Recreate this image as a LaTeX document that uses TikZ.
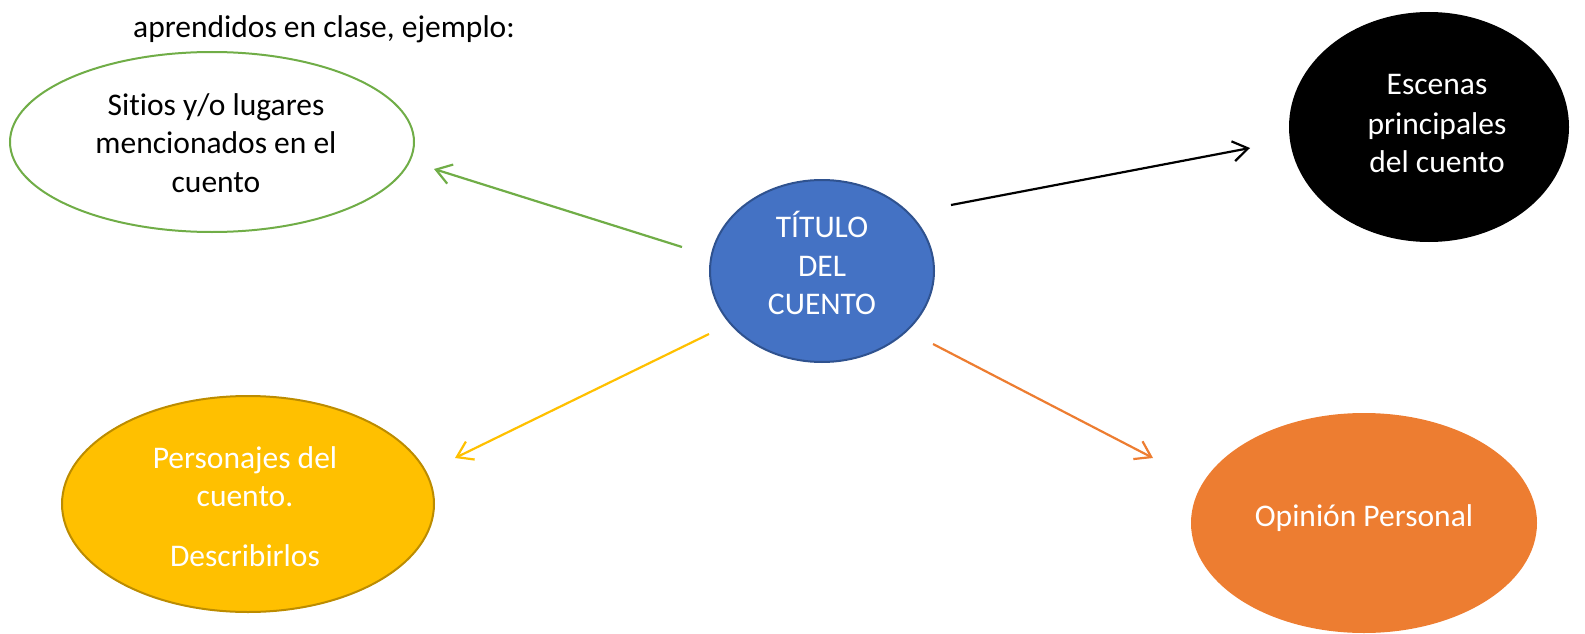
\documentclass[tikz,border=0pt]{standalone}
\usepackage{fontspec}
\setmainfont{Carlito}[Ligatures=NoCommon]
\usetikzlibrary{shapes.geometric,arrows.meta}
\definecolor{cgreen}{HTML}{70AD47}
\definecolor{cblue}{HTML}{4472C4}
\definecolor{cblueb}{HTML}{2F528F}
\definecolor{cyellow}{HTML}{FFC000}
\definecolor{cyellowb}{HTML}{BC8C00}
\definecolor{corange}{HTML}{ED7D31}
\begin{document}
\begin{tikzpicture}[x=1pt,y=-1pt,
  blob/.style={ellipse,inner sep=0pt,line width=2pt},
  txt/.style={anchor=base,inner sep=0pt,font=\fontsize{31.5}{38}\selectfont},
  wtxt/.style={txt,text=white},
  conn/.style={line width=2.2pt,-{Straight Barb[length=15pt,width=20pt,line width=2.2pt]}}]
\useasboundingbox (0,0) rectangle (1585,634);
\node[txt,anchor=base west] (intro) at (133,38) {aprendidos en clase, ejemplo:};
% ellipses
\node[blob,draw=cgreen,fill=white,minimum width=404pt,minimum height=180pt] (sitios) at (212,142) {};
\node[blob,fill=black,minimum width=280pt,minimum height=230pt] (escenas) at (1429,127) {};
\node[blob,draw=cblueb,fill=cblue,minimum width=224pt,minimum height=182pt] (titulo) at (822,271) {};
\node[blob,draw=cyellowb,fill=cyellow,minimum width=372pt,minimum height=216pt] (perso) at (248,504) {};
\node[blob,fill=corange,minimum width=346pt,minimum height=220pt] (opinion) at (1364,523) {};
% texts
\node[txt] (s1) at (216,115) {Sitios y/o lugares};
\node[txt] (s2) at (216,153) {mencionados en el};
\node[txt] (s3) at (216,192) {cuento};
\node[wtxt] (e1) at (1437,95) {Escenas};
\node[wtxt] (e2) at (1437,134) {principales};
\node[wtxt] (e3) at (1437,172) {del cuento};
\node[wtxt] (t1) at (822,237) {TÍTULO};
\node[wtxt] (t2) at (822,276) {DEL};
\node[wtxt] (t3) at (822,314) {CUENTO};
\node[wtxt] (p1) at (245,468) {Personajes del};
\node[wtxt] (p2) at (245,506) {cuento.};
\node[wtxt] (p3) at (245,566) {Describirlos};
\node[wtxt] (o1t) at (1364,526) {Opinión Personal};
% connector ends
\coordinate (g1) at (682,247); \coordinate (g2) at (434,169);
\coordinate (k1) at (951,205); \coordinate (k2) at (1250,148);
\coordinate (y1) at (709,334); \coordinate (y2) at (455,458);
\coordinate (o1) at (933,344); \coordinate (o2) at (1153,458);
\draw[conn,cgreen] (g1) -- (g2);
\draw[conn,black] (k1) -- (k2);
\draw[conn,cyellow] (y1) -- (y2);
\draw[conn,corange] (o1) -- (o2);
\end{tikzpicture}
\end{document}
